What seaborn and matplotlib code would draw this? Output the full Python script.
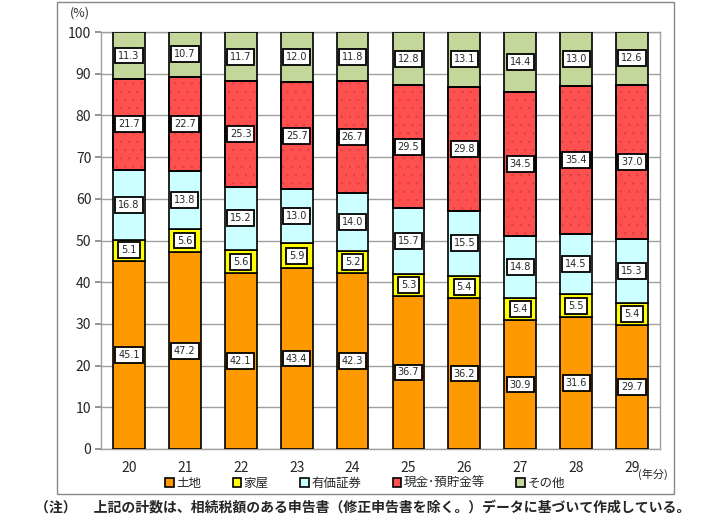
import matplotlib
matplotlib.use("Agg")
import matplotlib.pyplot as plt
import seaborn as sns
import numpy as np
import pandas as pd
from matplotlib.patches import Rectangle, Patch

years = ["20", "21", "22", "23", "24", "25", "26", "27", "28", "29"]
land = [45.1, 47.2, 42.1, 43.4, 42.3, 36.7, 36.2, 30.9, 31.6, 29.7]
house = [5.1, 5.6, 5.6, 5.9, 5.2, 5.3, 5.4, 5.4, 5.5, 5.4]
securities = [16.8, 13.8, 15.2, 13.0, 14.0, 15.7, 15.5, 14.8, 14.5, 15.3]
cash = [21.7, 22.7, 25.3, 25.7, 26.7, 29.5, 29.8, 34.5, 35.4, 37.0]
other = [11.3, 10.7, 11.7, 12.0, 11.8, 12.8, 13.1, 14.4, 13.0, 12.6]
series_names = ["土地", "家屋", "有価証券", "現金･預貯金等", "その他"]
colors = ["#FF9900", "#FFFF00", "#CCFFFF", "#FF5050", "#C4D79B"]
note = "（注）　 上記の計数は、相続税額のある申告書（修正申告書を除く。）データに基づいて作成している。"

sns.set_theme(style="white")
plt.rcParams['font.family'] = ['Noto Sans CJK JP', 'DejaVu Sans']
plt.rcParams['hatch.linewidth'] = 0.4

df = pd.DataFrame({"year": years, "土地": land, "家屋": house, "有価証券": securities,
                   "現金･預貯金等": cash, "その他": other})
long = df.melt(id_vars="year", var_name="series", value_name="value")

fig = plt.figure(figsize=(7.23, 5.28), dpi=100)
ax = fig.add_axes([101/723, 1-449/528, 559/723, 417/528])

# outer frame
fig.patches.append(Rectangle((57/723, 1-494/528), (674-57)/723, (494-2)/528,
                             transform=fig.transFigure, fill=False,
                             edgecolor="#888888", linewidth=1.0))

x = np.arange(len(years))
width = 0.57
bottom = np.zeros(len(years))
for name, col in zip(series_names, colors):
    vals = long.loc[long["series"] == name, "value"].to_numpy()
    ax.bar(x, vals, width=width, bottom=bottom, color=col, edgecolor="black",
           linewidth=1.2, zorder=3)
    if name == "現金･預貯金等":
        ax.bar(x, vals, width=width, bottom=bottom, fill=False, hatch="..",
               edgecolor="#D84040", linewidth=0, zorder=3.1)
        ax.bar(x, vals, width=width, bottom=bottom, fill=False,
               edgecolor="black", linewidth=1.2, zorder=3.2)
    for xi, v, b in zip(x, vals, bottom):
        ax.text(xi, b + v / 2, f"{v:.1f}", ha="center", va="center", fontsize=7,
                family=["DejaVu Sans"], zorder=5,
                bbox=dict(boxstyle="square,pad=0.3", facecolor="white",
                          edgecolor="black", linewidth=1.3))
    bottom += vals

ax.set_xlim(-0.5, len(years) - 0.5)
ax.set_ylim(0, 100)
ax.set_yticks(np.arange(0, 101, 10))
ax.set_yticklabels([str(v) for v in range(0, 101, 10)], fontsize=10)
ax.set_xticks(x)
ax.set_xticklabels(years, fontsize=10)
ax.set_xticks(np.arange(-0.5, len(years), 1), minor=True)
ax.tick_params(axis="x", which="major", length=0, pad=9)
ax.tick_params(axis="x", which="minor", length=4, color="#888888", direction="out")
ax.tick_params(axis="y", length=4, color="#888888", direction="out", pad=3, left=True)
ax.yaxis.grid(True, color="#A0A0A0", linewidth=1.0, zorder=0)
ax.set_axisbelow(True)
for s in ax.spines.values():
    s.set_color("#A0A0A0")
    s.set_linewidth(1.0)
ax.set_xlabel("")
ax.set_ylabel("")

fig.text(80/723, 1-13/528, "(%)", fontsize=9, ha="center", va="center", color="#333333")
fig.text(653/723, 1-474/528, "(年分)", fontsize=8, ha="center", va="center")

handles = [Patch(facecolor=c, edgecolor="black", linewidth=1.2) for c in colors]
fig.legend(handles, series_names, loc="center", bbox_to_anchor=(365/723, 1-483/528),
           ncol=5, frameon=False, fontsize=9, handlelength=0.7, handleheight=0.7,
           handletextpad=0.2, columnspacing=2.5)

fig.text(35/723, 1-508/528, note, fontsize=10, ha="left", va="center", fontweight="bold")

fig.savefig("out.png", dpi=100)
